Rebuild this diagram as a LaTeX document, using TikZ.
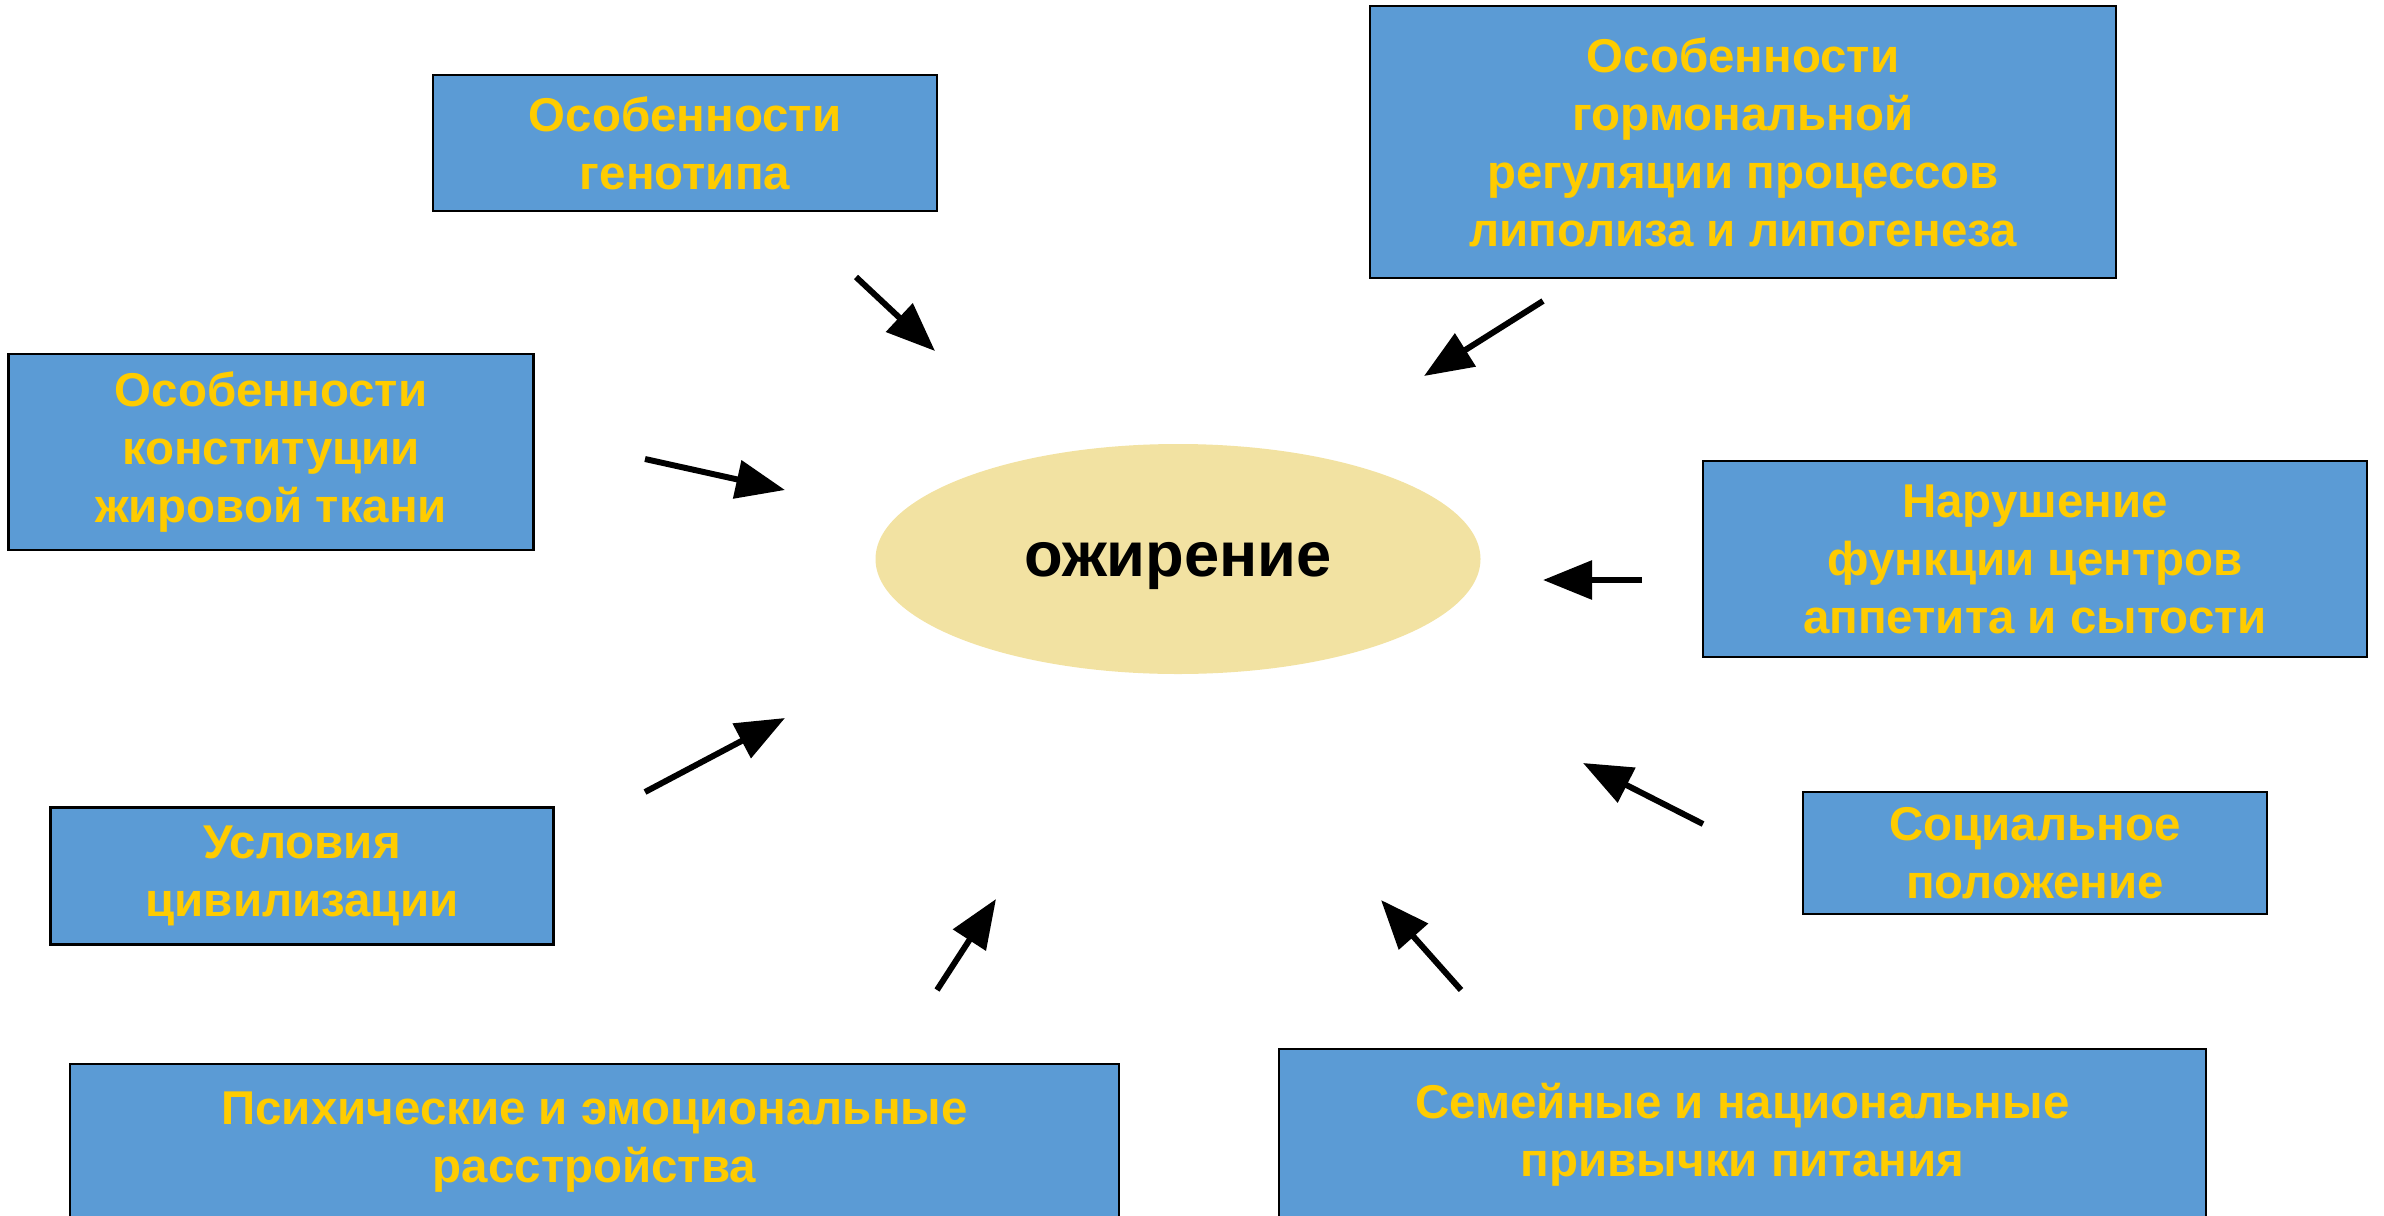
\documentclass[tikz,border=0pt]{standalone}
\usepackage{fontspec}
\setmainfont{Liberation Sans}
\usetikzlibrary{shapes.geometric, arrows.meta}

\definecolor{boxblue}{HTML}{5B9BD5}
\definecolor{textgold}{HTML}{FFCC00}
\definecolor{blobfill}{HTML}{F2E2A2}

\tikzset{
	factor/.style = {draw = black, line width = .8pt, fill = boxblue, text = textgold,
		font = \bfseries\fontsize{13.5}{16.5}\selectfont, align = center, inner sep = 0pt},
	blob/.style = {ellipse, fill = blobfill, inner sep = 0pt, text depth = 0pt,
		font = \bfseries\fontsize{18}{20}\selectfont},
	push/.style = {-{Triangle[length = .49cm, width = .38cm]}, line width = 1.7pt}
}

\begin{document}
\begin{tikzpicture}
	\useasboundingbox (0, 0) rectangle (23.84, -12.15);
	
	% центр
	\node [blob, minimum width = 6.05cm, minimum height = 2.3cm] (obesity) at (11.78, -5.59) {ожирение};
	
	% факторы
	\node [factor, minimum width = 5.04cm, minimum height = 1.36cm] (genotype) at (6.85, -1.43) {Особенности\\генотипа};
	\node [factor, minimum width = 7.46cm, minimum height = 2.72cm] (hormones) at (17.43, -1.42) {Особенности\\гормональной\\регуляции процессов\\липолиза и липогенеза};
	\node [factor, minimum width = 5.25cm, minimum height = 1.96cm] (tissue) at (2.71, -4.52) {Особенности\\конституции\\жировой ткани};
	\node [factor, minimum width = 6.64cm, minimum height = 1.96cm] (appetite) at (20.35, -5.59) {Нарушение\\функции центров\\аппетита и сытости};
	\node [factor, minimum width = 5.03cm, minimum height = 1.37cm] (civil) at (3.02, -8.76) {Условия\\цивилизации};
	\node [factor, minimum width = 4.64cm, minimum height = 1.22cm] (social) at (20.35, -8.53) {Социальное\\положение};
	\node [factor, minimum width = 10.49cm, minimum height = 1.56cm] (psyche) at (5.945, -11.42) {Психические и эмоциональные\\расстройства};
	\node [factor, minimum width = 9.27cm, minimum height = 1.72cm] (family) at (17.425, -11.35) {Семейные и национальные\\привычки питания};
	
	% стрелки
	\coordinate (genotype-tail) at (8.56, -2.77);
	\coordinate (genotype-tip) at (9.35, -3.51);
	\coordinate (hormones-tail) at (15.43, -3.01);
	\coordinate (hormones-tip) at (14.24, -3.76);
	\coordinate (tissue-tail) at (6.45, -4.59);
	\coordinate (tissue-tip) at (7.85, -4.90);
	\coordinate (appetite-tail) at (16.42, -5.80);
	\coordinate (appetite-tip) at (15.43, -5.80);
	\coordinate (civil-tail) at (6.45, -7.92);
	\coordinate (civil-tip) at (7.85, -7.18);
	\coordinate (social-tail) at (17.03, -8.24);
	\coordinate (social-tip) at (15.83, -7.63);
	\coordinate (psyche-tail) at (9.37, -9.90);
	\coordinate (psyche-tip) at (9.96, -8.99);
	\coordinate (family-tail) at (14.61, -9.90);
	\coordinate (family-tip) at (13.81, -9.00);
	
	\draw [push] (genotype-tail) -- (genotype-tip);
	\draw [push] (hormones-tail) -- (hormones-tip);
	\draw [push] (tissue-tail) -- (tissue-tip);
	\draw [push] (appetite-tail) -- (appetite-tip);
	\draw [push] (civil-tail) -- (civil-tip);
	\draw [push] (social-tail) -- (social-tip);
	\draw [push] (psyche-tail) -- (psyche-tip);
	\draw [push] (family-tail) -- (family-tip);
\end{tikzpicture}
\end{document}
